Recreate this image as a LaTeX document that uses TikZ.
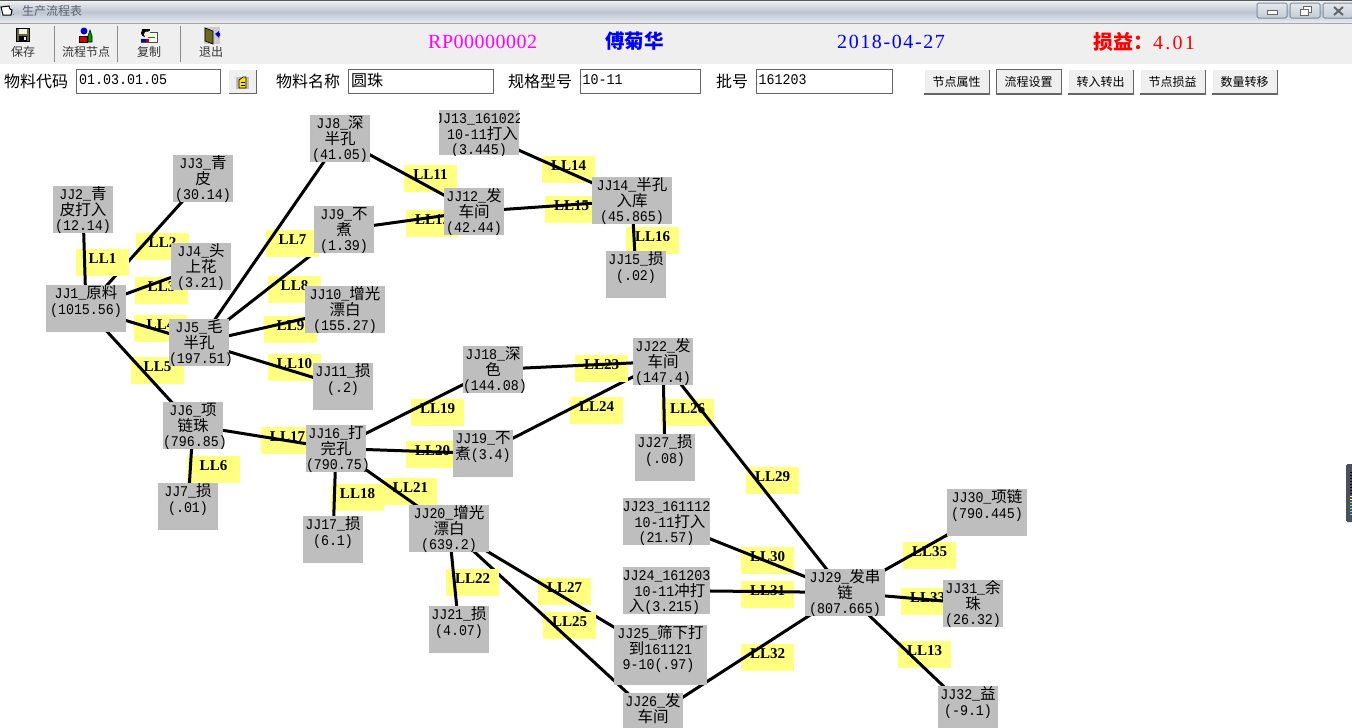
\documentclass[tikz,border=0pt]{standalone}
\usepackage{fontspec}
\setmainfont[FakeStretch=0.9]{Liberation Mono}
\newfontfamily\cjk{Noto Sans CJK SC}
\newfontfamily\labelfont[BoldFont={Liberation Serif Bold}]{Liberation Serif}
\newfontfamily\hdra[LetterSpace=2.5]{Liberation Serif}
\newfontfamily\hdrb[LetterSpace=11]{Liberation Serif}
\newfontfamily\hdrc[LetterSpace=8]{Liberation Serif}
\newcommand\zh[1]{{\cjk #1}}
\pgfdeclarelayer{front}
\pgfsetlayers{main,front}
\definecolor{nodegray}{HTML}{BEBEBE}
\definecolor{notey}{HTML}{FFFF80}
\definecolor{barbg}{HTML}{EFEFEF}
\definecolor{fieldline}{HTML}{666666}
\definecolor{wintext}{HTML}{5A6070}
\definecolor{winline}{HTML}{7B8CA3}
\definecolor{pureblue}{RGB}{0,0,255}
\definecolor{purered}{RGB}{255,0,0}
\definecolor{puremag}{RGB}{255,0,255}
\definecolor{sidebar}{HTML}{4C4F5C}
\tikzset{
  stagebox/.style={fill=nodegray,anchor=north west,inner sep=0pt,outer sep=0pt,text=black},
  notebox/.style={fill=notey,anchor=north west,inner sep=0pt,outer sep=0pt,text=black},
  link/.style={draw=black,line width=3pt},
  fieldbox/.style={draw=fieldline,line width=1pt,fill=white},
  captext/.style={anchor=west,inner sep=0pt,text=black,font=\cjk\fontsize{16}{16}\selectfont},
  fieldtext/.style={anchor=west,inner sep=0pt,text=black,font=\fontsize{14.8}{16}\selectfont},
  tooltext/.style={anchor=center,inner sep=0pt,text=black!80,font=\cjk\fontsize{12}{14}\selectfont},
  barsep/.style={draw=black!45,line width=1pt},
}
% name, x, y, w, h, text
\newcommand\jj[6]{\node[stagebox] (#1) at (#2,#3) {\parbox[t][#5pt][t]{#4pt}{\fontsize{14.8}{15.5}\selectfont\lineskiplimit=-20pt\let\cjkorig\cjk\def\cjk{\cjkorig\fontsize{15.5}{15.5}\selectfont}\centering\rule{0pt}{13.5pt}#6}};}
% number, x, y
\newcommand\llnote[3]{\node[notebox] (l#1) at (#2,#3) {\parbox[t][27pt][t]{53pt}{\fontsize{15}{15}\selectfont\labelfont\bfseries\centering\rule{0pt}{14pt}LL#1}};}
% name, x, text
\newcommand\flatbtn[3]{\node[inner sep=0pt,minimum width=65pt,minimum height=24pt,anchor=north west,fill=barbg] (#1) at (#2,69.5) {\cjk\fontsize{12}{14}\selectfont #3};
  \draw[white,line width=1pt] (#1.south west) -- (#1.north west) -- (#1.north east);
  \draw[black!60,line width=1.4pt] (#1.north east) -- (#1.south east) -- (#1.south west);}
\begin{document}
\begin{tikzpicture}[x=1pt,y=-1pt]
\useasboundingbox (0,0) rectangle (1352,728);
\fill[white] (0,0) rectangle (1352,728);
% ---- title bar
\shade[top color=white!70!winline!45,bottom color=winline!50!white] (0,1) rectangle (1352,12);
\shade[top color=winline!50!white,bottom color=white!80!winline] (0,12) rectangle (1352,22);
\fill[black!65] (0,0) rectangle (1352,1.2);
\fill[black!35] (0,22.5) rectangle (1352,23.5);
\node[anchor=west,inner sep=0pt,text=wintext,font=\cjk\fontsize{12}{14}\selectfont] (title) at (22,10.5) {生产流程表};
\fill[white] (1,7) rectangle (11,15);
\draw[black,line width=1pt] (1,7) -- (9,6) -- (10,9) -- (12,10) -- (11,15) -- (3,15) -- cycle;
\fill[black!60] (13,14) rectangle (14,15);
% window buttons
\foreach \bx in {1257,1290,1323}{
  \draw[winline,line width=1pt,rounded corners=1.5pt,top color=white!80!winline,bottom color=winline!45!white] (\bx,3) rectangle ++(30,15);
}
\draw[black!60,fill=white,line width=1pt] (1267,10) rectangle (1277,14);
\draw[black!60,fill=white,line width=1pt] (1303,6.5) rectangle (1311,12);
\draw[black!60,fill=white,line width=1pt] (1300,9.5) rectangle (1308,15);
\draw[black!60,line width=2pt] (1334,7) -- (1343,15) (1343,7) -- (1334,15);
% ---- toolbar
\fill[barbg] (0,24) rectangle (1352,64);
\draw[barsep] (54,26) -- (54,62);
\draw[barsep] (117,26) -- (117,62);
\draw[barsep] (180,26) -- (180,62);
\node[tooltext] (t1) at (23,52) {保存};
\node[tooltext] (t2) at (86,52) {流程节点};
\node[tooltext] (t3) at (149,52) {复制};
\node[tooltext] (t4) at (211,52) {退出};
% save icon
\fill[black] (16,28) rectangle (30,42);
\fill[olive!70!black] (17,29) rectangle (29,41);
\fill[barbg] (19,29) rectangle (27,34);
\fill[black] (19,36) rectangle (27,41);
\fill[barbg] (24,37) rectangle (26,40);
% flow icon
\fill[blue] (84,31) circle (3.2);
\draw[black] (84,31) circle (3.2);
\fill[red!85!black] (79,36) rectangle (87,42);
\draw[black] (79,36) rectangle (87,42);
\fill[green!60!black] (88,42) -- (88,36) -- (90,30) -- (92,36) -- (92,42) -- cycle;
\draw[black,line width=.6pt] (88,42) -- (88,36) -- (90,30) -- (92,36) -- (92,42) -- cycle;
% copy icon
\fill[white] (150,32) rectangle (157,42);
\draw[black!70] (150,32) -- (157,32) -- (157,42) -- (141,42);
\fill[black] (145,33) circle (4);
\fill[white!85!orange] (147,34.5) circle (3);
\fill[black] (142,29) rectangle (150,31);
\fill[blue!80!black] (141,39) rectangle (146,42);
\draw[green!60!black,line width=1pt] (148,37) -- (155,37);
\fill[red!80!black] (146,39) rectangle (149,42);
% exit icon
\fill[black!20] (204,27) rectangle (220,44);
\fill[olive!70!black] (205,28) -- (213,31) -- (213,44) -- (205,41) -- cycle;
\draw[black,line width=.7pt] (205,28) -- (213,31) -- (213,44) -- (205,41) -- cycle;
\fill[blue!80!black] (215,34) -- (219,31) -- (219,33) -- (220,33) -- (220,36) -- (219,36) -- (219,38) -- cycle;
% header texts
\node[anchor=west,inner sep=0pt,text=puremag,font=\hdra\fontsize{20}{22}\selectfont] (code) at (428,41.5) {RP00000002};
\node[anchor=center,inner sep=0pt,text=pureblue,font=\cjk\bfseries\fontsize{19.5}{22}\selectfont] (who) at (634.5,41) {傅菊华};
\node[anchor=west,inner sep=0pt,text=pureblue,font=\hdrc\fontsize{20}{22}\selectfont] (date) at (837,41.5) {2018-04-27};
\node[anchor=west,inner sep=0pt,text=purered,font=\hdrb\fontsize{20}{22}\selectfont] (gain) at (1093,41.5) {{\cjk\bfseries\fontsize{20}{22}\selectfont 损益：}4.01};
% ---- field row
\node[captext] (f1) at (4,81) {物料代码};
\draw[fieldbox] (76.5,69.5) rectangle (220.5,93.5);
\node[fieldtext] (v1) at (79,80) {01.03.01.05};
\fill[barbg] (228,69) rectangle (257,94);
\draw[white,line width=1pt] (228.5,93.5) -- (228.5,69.5) -- (256.5,69.5);
\draw[black!60,line width=1.4pt] (256.5,69.5) -- (256.5,93.5) -- (228.5,93.5);
\fill[black!25] (236,77) rectangle (249,89);
\fill[yellow!85!orange] (239,84) -- (239,80) -- (243,77) -- (246,77) -- (246,88) -- (239,88) -- cycle;
\draw[black,line width=.7pt] (239,88) -- (239,80) -- (243,77) -- (246,77) -- (246,88) -- cycle;
\draw[black,line width=.5pt] (241,82) -- (245,82) (241,85) -- (245,85);
\node[captext] (f2) at (276,81) {物料名称};
\draw[fieldbox] (348.5,69.5) rectangle (493,93.5);
\node[anchor=west,inner sep=0pt,text=black,font=\cjk\fontsize{16}{16}\selectfont] (v2) at (351,80) {圆珠};
\node[captext] (f3) at (508,81) {规格型号};
\draw[fieldbox] (580.5,69.5) rectangle (700.5,93.5);
\node[fieldtext] (v3) at (582.5,80) {10-11};
\node[captext] (f4) at (716,81) {批号};
\draw[fieldbox] (756.5,69.5) rectangle (892.5,93.5);
\node[fieldtext] (v4) at (758.5,80) {161203};
\flatbtn{b1}{924}{节点属性}
\flatbtn{b2}{996}{流程设置}
\draw[black!60,line width=1pt] (b2.north west) rectangle (b2.south east);
\flatbtn{b3}{1068}{转入转出}
\flatbtn{b4}{1140}{节点损益}
\flatbtn{b5}{1212}{数量转移}
% side widget
\fill[sidebar,rounded corners=1.5pt] (1346,464) rectangle (1354,522);
\foreach \yy in {472,475,...,493}{\fill[black] (1350,\yy) rectangle (1352,\yy+1);}
\foreach \yy/\cc in {496/yellow,499/yellow,502/green,505/green,508/green,511/cyan,514/cyan}{\fill[\cc!60!white] (1350,\yy) rectangle (1352,\yy+1);}
% ---- stage boxes (in front of notes and links)
\begin{pgfonlayer}{front}
\jj{jj1}{46}{285}{80}{47}{JJ1\_\zh{原料}\\(1015.56)}
\jj{jj2}{53}{186}{60}{47}{JJ2\_\zh{青}\\\zh{皮打入}\\(12.14)}
\jj{jj3}{173}{155}{60}{47}{JJ3\_\zh{青}\\\zh{皮}\\(30.14)}
\jj{jj4}{171}{243}{60}{47}{JJ4\_\zh{头}\\\zh{上花}\\(3.21)}
\jj{jj5}{169}{319}{60}{47}{JJ5\_\zh{毛}\\\zh{半孔}\\(197.51)}
\jj{jj6}{163}{402}{60}{47}{JJ6\_\zh{项}\\\zh{链珠}\\(796.85)}
\jj{jj7}{158}{483}{60}{47}{JJ7\_\zh{损}\\(.01)}
\jj{jj8}{310}{115}{60}{47}{JJ8\_\zh{深}\\\zh{半孔}\\(41.05)}
\jj{jj9}{314}{206}{60}{47}{JJ9\_\zh{不}\\\zh{煮}\\(1.39)}
\jj{jj10}{305}{286}{80}{47}{JJ10\_\zh{增光}\\\zh{漂白}\\(155.27)}
\jj{jj11}{313}{363}{60}{47}{JJ11\_\zh{损}\\(.2)}
\jj{jj12}{444}{188}{60}{47}{JJ12\_\zh{发}\\\zh{车间}\\(42.44)}
\begin{scope}
\clip (439,110) rectangle (519,155);
\jj{jj13}{439}{110}{80}{45}{\makebox[0pt][c]{JJ13\_161022}\\\hspace*{7pt}10-11\zh{打入}\\(3.445)}
\end{scope}
\jj{jj14}{592}{177}{80}{47}{JJ14\_\zh{半孔}\\\zh{入库}\\(45.865)}
\jj{jj15}{606}{251}{60}{47}{JJ15\_\zh{损}\\(.02)}
\jj{jj16}{306}{425}{60}{47}{JJ16\_\zh{打}\\\zh{完孔}\\(790.75)}
\jj{jj17}{303}{516}{60}{47}{JJ17\_\zh{损}\\(6.1)}
\jj{jj18}{463}{346}{60}{47}{JJ18\_\zh{深}\\\zh{色}\\(144.08)}
\jj{jj19}{453}{430}{60}{47}{JJ19\_\zh{不}\\\zh{煮}(3.4)}
\jj{jj20}{409}{505}{80}{47}{JJ20\_\zh{增光}\\\zh{漂白}\\(639.2)}
\jj{jj21}{429}{606}{60}{47}{JJ21\_\zh{损}\\(4.07)}
\jj{jj22}{633}{338}{60}{47}{JJ22\_\zh{发}\\\zh{车间}\\(147.4)}
\jj{jj23}{623}{498}{87}{47}{\makebox[0pt][c]{JJ23\_161112}\\\hspace*{7pt}10-11\zh{打入}\\(21.57)}
\jj{jj24}{623}{567}{87}{47}{\makebox[0pt][c]{JJ24\_161203}\\\hspace*{7pt}10-11\zh{冲打}\\\zh{入}(3.215)\hspace*{4pt}}
\jj{jj25}{614}{625}{93}{60}{JJ25\_\zh{筛下打}\\\zh{到}161121\hspace*{8pt}\\9-10(.97)\hspace*{4pt}}
\jj{jj26}{623}{693}{60}{47}{JJ26\_\zh{发}\\\zh{车间}}
\jj{jj27}{635}{434}{60}{47}{JJ27\_\zh{损}\\(.08)}
\jj{jj29}{805}{569}{80}{47}{JJ29\_\zh{发串}\\\zh{链}\\(807.665)}
\jj{jj30}{947}{489}{80}{47}{JJ30\_\zh{项链}\\(790.445)}
\jj{jj31}{943}{580}{60}{47}{JJ31\_\zh{余}\\\zh{珠}\\(26.32)}
\jj{jj32}{938}{686}{60}{47}{JJ32\_\zh{益}\\(-9.1)}
\end{pgfonlayer}
% ---- notes and links, painted in sequence so that later notes hide earlier links
\llnote{35}{903}{542}\draw[link] (jj29.center) -- (jj30.center);
\llnote{33}{901}{588}\draw[link] (jj29.center) -- (jj31.center);
\llnote{32}{741}{644}\draw[link] (jj26.center) -- (jj29.center);
\llnote{31}{741}{581}\draw[link] (jj24.center) -- (jj29.center);
\llnote{30}{741}{547}\draw[link] (jj23.center) -- (jj29.center);
\llnote{29}{746}{467}
\llnote{27}{538}{578}\draw[link] (jj20.center) -- (jj25.center);
\llnote{26}{661}{399}\draw[link] (jj22.center) -- (jj27.center);
\draw[link] (jj22.center) -- (jj29.center);
\llnote{25}{543}{612}\draw[link] (jj20.center) -- (jj26.center);
\llnote{24}{570}{397}\draw[link] (jj19.center) -- (jj22.center);
\llnote{23}{575}{355}\draw[link] (jj18.center) -- (jj22.center);
\llnote{22}{446}{569}\draw[link] (jj20.center) -- (jj21.center);
\llnote{21}{384}{478}\draw[link] (jj16.center) -- (jj20.center);
\llnote{20}{406}{441}\draw[link] (jj16.center) -- (jj19.center);
\llnote{19}{411}{399}\draw[link] (jj16.center) -- (jj18.center);
\llnote{18}{331}{484}\draw[link] (jj16.center) -- (jj17.center);
\llnote{17}{261}{427}\draw[link] (jj6.center) -- (jj16.center);
\llnote{16}{626}{227}\draw[link] (jj14.center) -- (jj15.center);
\llnote{15}{545}{196}\draw[link] (jj12.center) -- (jj14.center);
\llnote{14}{542}{156}\draw[link] (jj13.center) -- (jj14.center);
\llnote{13}{898}{641}\draw[link] (jj29.center) -- (jj32.center);
\llnote{12}{406}{210}\draw[link] (jj9.center) -- (jj12.center);
\llnote{11}{404}{165}\draw[link] (jj8.center) -- (jj12.center);
\llnote{10}{268}{354}\draw[link] (jj5.center) -- (jj11.center);
\llnote{9}{264}{316}\draw[link] (jj5.center) -- (jj10.center);
\llnote{8}{268}{276}\draw[link] (jj5.center) -- (jj9.center);
\llnote{7}{266}{230}\draw[link] (jj5.center) -- (jj8.center);
\llnote{6}{187}{456}\draw[link] (jj6.center) -- (jj7.center);
\llnote{5}{131}{357}\draw[link] (jj1.center) -- (jj6.center);
\llnote{4}{134}{315}\draw[link] (jj1.center) -- (jj5.center);
\llnote{3}{135}{277}\draw[link] (jj1.center) -- (jj4.center);
\llnote{2}{136}{233}\draw[link] (jj1.center) -- (jj3.center);
\llnote{1}{76}{249}\draw[link] (jj1.center) -- (jj2.center);
\end{tikzpicture}
\end{document}
